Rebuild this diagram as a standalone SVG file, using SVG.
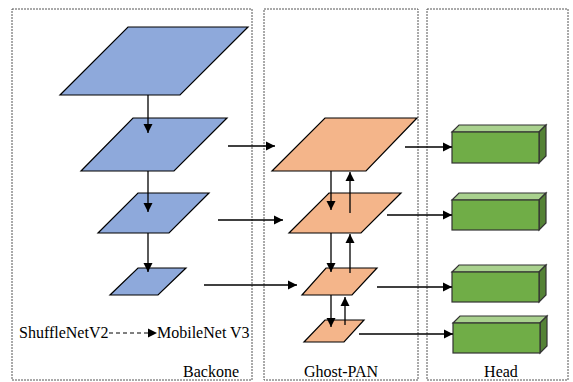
<svg xmlns="http://www.w3.org/2000/svg" width="573" height="382" viewBox="0 0 573 382">
  <defs>
    <marker id="arrow" markerUnits="userSpaceOnUse" markerWidth="10" markerHeight="10" refX="9" refY="5" orient="auto">
      <path d="M0,0.5 L9,5 L0,9.5 z" fill="#000"/>
    </marker>
  </defs>
  <style>
    .stage { fill: none; stroke: #555; stroke-width: 1; stroke-dasharray: 2 1; }
    .blue { fill: #8EA9DB; stroke: #000; stroke-width: 1.2; }
    .orange { fill: #F4B58A; stroke: #000; stroke-width: 1.2; }
    .front { fill: #70AD47; stroke: #333; stroke-width: 1.2; }
    .top { fill: #A9D18E; stroke: #333; stroke-width: 1.2; }
    .side { fill: #548235; stroke: #333; stroke-width: 1.2; }
    .link { fill: none; stroke: #000; stroke-width: 1.3; marker-end: url(#arrow); }
    .label { font-family: "Liberation Serif", "Times New Roman", serif; font-size: 16px; fill: #000; }
  </style>

  <!-- stage frames -->
  <g id="backbone-frame">
    <rect class="stage" x="12" y="9" width="240" height="371"/>
    <text class="label" x="239" y="377" text-anchor="end">Backone</text>
  </g>
  <g id="ghostpan-frame">
    <rect class="stage" x="264" y="9" width="154" height="371"/>
    <text class="label" x="341" y="377" text-anchor="middle">Ghost-PAN</text>
  </g>
  <g id="head-frame">
    <rect class="stage" x="427" y="9" width="141" height="371"/>
    <text class="label" x="501" y="377" text-anchor="middle">Head</text>
  </g>

  <!-- backbone feature maps -->
  <g id="b1"><polygon class="blue" points="128,27 248,27 180,95 60,95"/></g>
  <g id="b2"><polygon class="blue" points="133,118 227,118 174,171 81,171"/></g>
  <g id="b3"><polygon class="blue" points="138,193 209,193 169,233 98,233"/></g>
  <g id="b4"><polygon class="blue" points="138,268 186,268 158,295 110,295"/></g>

  <!-- Ghost-PAN feature maps -->
  <g id="p1"><polygon class="orange" points="325,118 417,118 366,171 272,171"/></g>
  <g id="p2"><polygon class="orange" points="329,193 401,193 361,233 289,233"/></g>
  <g id="p3"><polygon class="orange" points="326,268 377,268 352,295 302,295"/></g>
  <g id="p4"><polygon class="orange" points="325,320 364,320 344,342 304,342"/></g>

  <!-- detection heads -->
  <g id="h1">
    <polygon class="top" points="452,132 459,125 546,125 539,132"/>
    <polygon class="side" points="539,132 546,125 546,156 539,163"/>
    <rect class="front" x="452" y="132" width="87" height="31"/>
  </g>
  <g id="h2">
    <polygon class="top" points="452,200 459,193 546,193 539,200"/>
    <polygon class="side" points="539,200 546,193 546,223 539,230"/>
    <rect class="front" x="452" y="200" width="87" height="30"/>
  </g>
  <g id="h3">
    <polygon class="top" points="452,272 459,265 546,265 539,272"/>
    <polygon class="side" points="539,272 546,265 546,295 539,302"/>
    <rect class="front" x="452" y="272" width="87" height="30"/>
  </g>
  <g id="h4">
    <polygon class="top" points="453,323 460,316 547,316 540,323"/>
    <polygon class="side" points="540,323 547,316 547,346 540,353"/>
    <rect class="front" x="453" y="323" width="87" height="30"/>
  </g>

  <!-- legend -->
  <g id="legend">
    <text class="label" x="19" y="338">ShuffleNetV2</text>
    <line x1="109" y1="333" x2="157" y2="333" stroke="#000" stroke-width="1" stroke-dasharray="4 3" marker-end="url(#arrow)"/>
    <text class="label" x="157" y="338">MobileNet V3</text>
  </g>

  <!-- connectors -->
  <g id="connectors">
    <!-- backbone downsampling -->
    <line class="link" x1="148" y1="95" x2="148" y2="133"/>
    <line class="link" x1="148" y1="171" x2="148" y2="212"/>
    <line class="link" x1="148" y1="233" x2="148" y2="272"/>
    <!-- backbone to Ghost-PAN -->
    <line class="link" x1="228" y1="146" x2="275" y2="146"/>
    <line class="link" x1="218" y1="220" x2="283" y2="220"/>
    <line class="link" x1="204" y1="285" x2="297" y2="285"/>
    <!-- top-down path -->
    <line class="link" x1="331" y1="171" x2="331" y2="210"/>
    <line class="link" x1="331" y1="233" x2="331" y2="272"/>
    <line class="link" x1="331" y1="295" x2="331" y2="327"/>
    <!-- bottom-up path -->
    <line class="link" x1="350" y1="213" x2="350" y2="172"/>
    <line class="link" x1="350" y1="273" x2="350" y2="234"/>
    <line class="link" x1="345" y1="325" x2="345" y2="297"/>
    <!-- Ghost-PAN to heads -->
    <line class="link" x1="405" y1="147" x2="452" y2="147"/>
    <line class="link" x1="387" y1="215" x2="452" y2="215"/>
    <line class="link" x1="377" y1="287" x2="452" y2="287"/>
    <line class="link" x1="359" y1="334" x2="453" y2="334"/>
  </g>
</svg>
